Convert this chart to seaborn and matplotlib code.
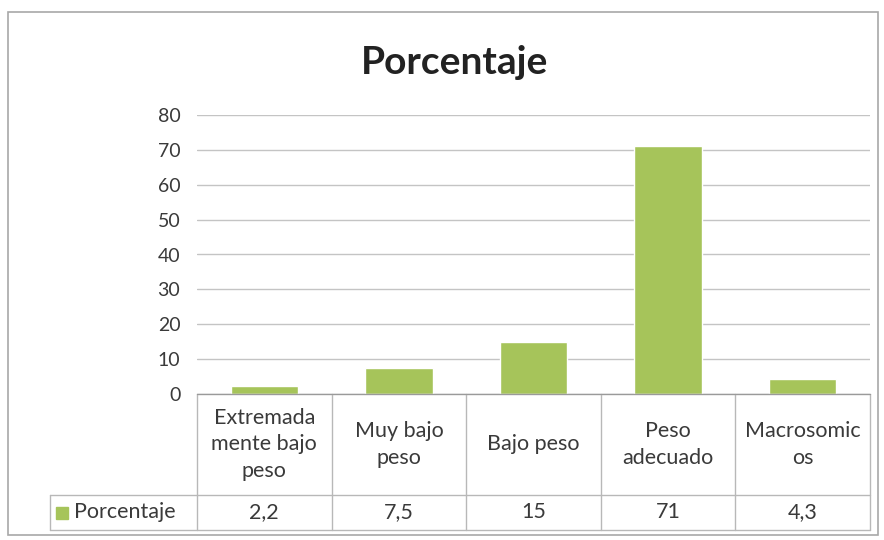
import numpy as np
import pandas as pd
import seaborn as sns
import matplotlib.pyplot as plt
from matplotlib.patches import Rectangle

categorias = ["Extremada\nmente bajo\npeso", "Muy bajo\npeso", "Bajo peso", "Peso\nadecuado", "Macrosomic\nos"]
valores = [2.2, 7.5, 15, 71, 4.3]
etiquetas_valor = ["2,2", "7,5", "15", "71", "4,3"]
serie = "Porcentaje"

sns.set_style("white")
plt.rcParams["font.family"] = ["Lato", "DejaVu Sans"]

verde = "#a6c45a"
txt = "#3a3a3a"
df = pd.DataFrame({"cat": categorias, "val": valores})

fig = plt.figure(figsize=(8.84, 5.4), dpi=100)
ax = fig.add_axes([197 / 884, 146 / 540, 673 / 884, 279 / 540])
sns.barplot(data=df, x="cat", y="val", color=verde, width=0.5, saturation=1, ax=ax)

ax.set_ylim(0, 80)
ax.set_xlim(-0.5, 4.5)
ax.set_yticks(range(0, 81, 10))
ax.yaxis.grid(True, color="#c4c4c4", linewidth=1)
ax.set_axisbelow(True)
for s in ["top", "right", "left"]:
    ax.spines[s].set_visible(False)
ax.spines["bottom"].set_color("#9a9a9a")
ax.tick_params(axis="y", length=0, labelsize=14, labelcolor=txt, pad=12)
ax.set_xticks([])
ax.set_xlabel("")
ax.set_ylabel("")

# tabla de datos bajo el eje
lc = "#b8b8b8"
y_head = -101 / 279
y_bot = -136 / 279
x_lab = -147 / 673
kw = dict(transform=ax.transAxes, color=lc, lw=1, clip_on=False)
ax.plot([0, 1], [0, 0], **kw)
ax.plot([x_lab, 1], [y_head, y_head], **kw)
ax.plot([x_lab, 1], [y_bot, y_bot], **kw)
ax.plot([x_lab, x_lab], [y_head, y_bot], **kw)
for i in range(6):
    ax.plot([i / 5, i / 5], [0, y_bot], **kw)

for i, (c, t) in enumerate(zip(categorias, etiquetas_valor)):
    xc = (i + 0.5) / 5
    ax.text(xc, y_head / 2, c, transform=ax.transAxes, ha="center", va="center",
            fontsize=15.5, color=txt, linespacing=1.4)
    ax.text(xc, (y_head + y_bot) / 2, t, transform=ax.transAxes, ha="center", va="center",
            fontsize=15.5, color=txt)

ax.add_patch(Rectangle((x_lab + 6 / 673, (y_head + y_bot) / 2 - 6 / 279), 12 / 673, 12 / 279,
                       transform=ax.transAxes, color=verde, clip_on=False))
ax.text(x_lab + 24 / 673, (y_head + y_bot) / 2, serie, transform=ax.transAxes,
        ha="left", va="center", fontsize=15.5, color=txt)

fig.text(455 / 884, 1 - 62 / 540, serie, ha="center", va="center", fontsize=28,
         fontweight="bold", color="#222222")

fig.patches.append(Rectangle((8 / 884, 5 / 540), 870 / 884, 523 / 540, transform=fig.transFigure,
                             fill=False, edgecolor="#a8a8a8", lw=1.2))

fig.savefig("out.png", dpi=100)
